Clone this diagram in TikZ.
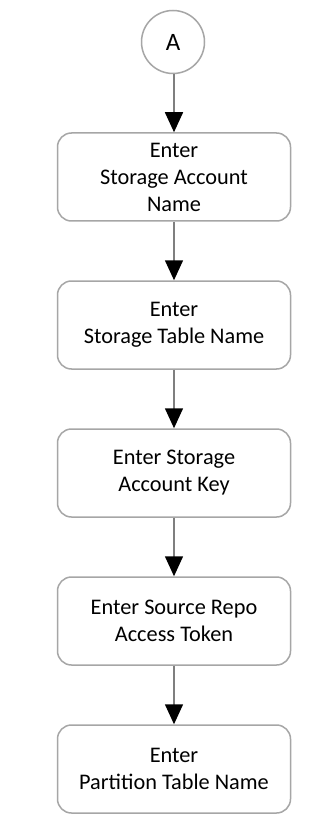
\documentclass[tikz,border=0pt]{standalone}
\usepackage{fontspec}
\setmainfont{Carlito}
\usetikzlibrary{arrows.meta}
\definecolor{edgegray}{HTML}{A6A6A6}
\definecolor{linegray}{HTML}{7F7F7F}
\begin{document}
\begin{tikzpicture}[x=1pt,y=-1pt,
  stepbox/.style={draw=edgegray, line width=1.5pt, rounded corners=14pt, fill=white,
    minimum width=233pt, minimum height=88pt, align=center,
    font=\fontsize{22.3}{27}\selectfont, inner sep=0pt},
  connector/.style={circle, draw=edgegray, line width=1.5pt, minimum size=63pt,
    inner sep=0pt, font=\fontsize{25}{28}\selectfont},
  flow/.style={draw=linegray, line width=1.5pt,
    -{Triangle[length=20pt,width=18pt,color=black,fill=black]}}]
\useasboundingbox (0,0) rectangle (328,834);
\fill[white] (0,0) rectangle (328,834);
\node[connector] (a) at (173,42) {A};
\node[stepbox] (s1) at (174,177) {Enter\\Storage Account\\Name};
\node[stepbox] (s2) at (174,325) {Enter\\Storage Table Name};
\node[stepbox] (s3) at (174,473) {Enter Storage\\Account Key};
\node[stepbox] (s4) at (174,621) {Enter Source Repo\\Access Token};
\node[stepbox] (s5) at (174,769) {Enter\\Partition Table Name};
\draw[flow] (a.south -| s1.north) -- (s1.north);
\draw[flow] (s1) -- (s2);
\draw[flow] (s2) -- (s3);
\draw[flow] (s3) -- (s4);
\draw[flow] (s4) -- (s5);
\end{tikzpicture}
\end{document}
